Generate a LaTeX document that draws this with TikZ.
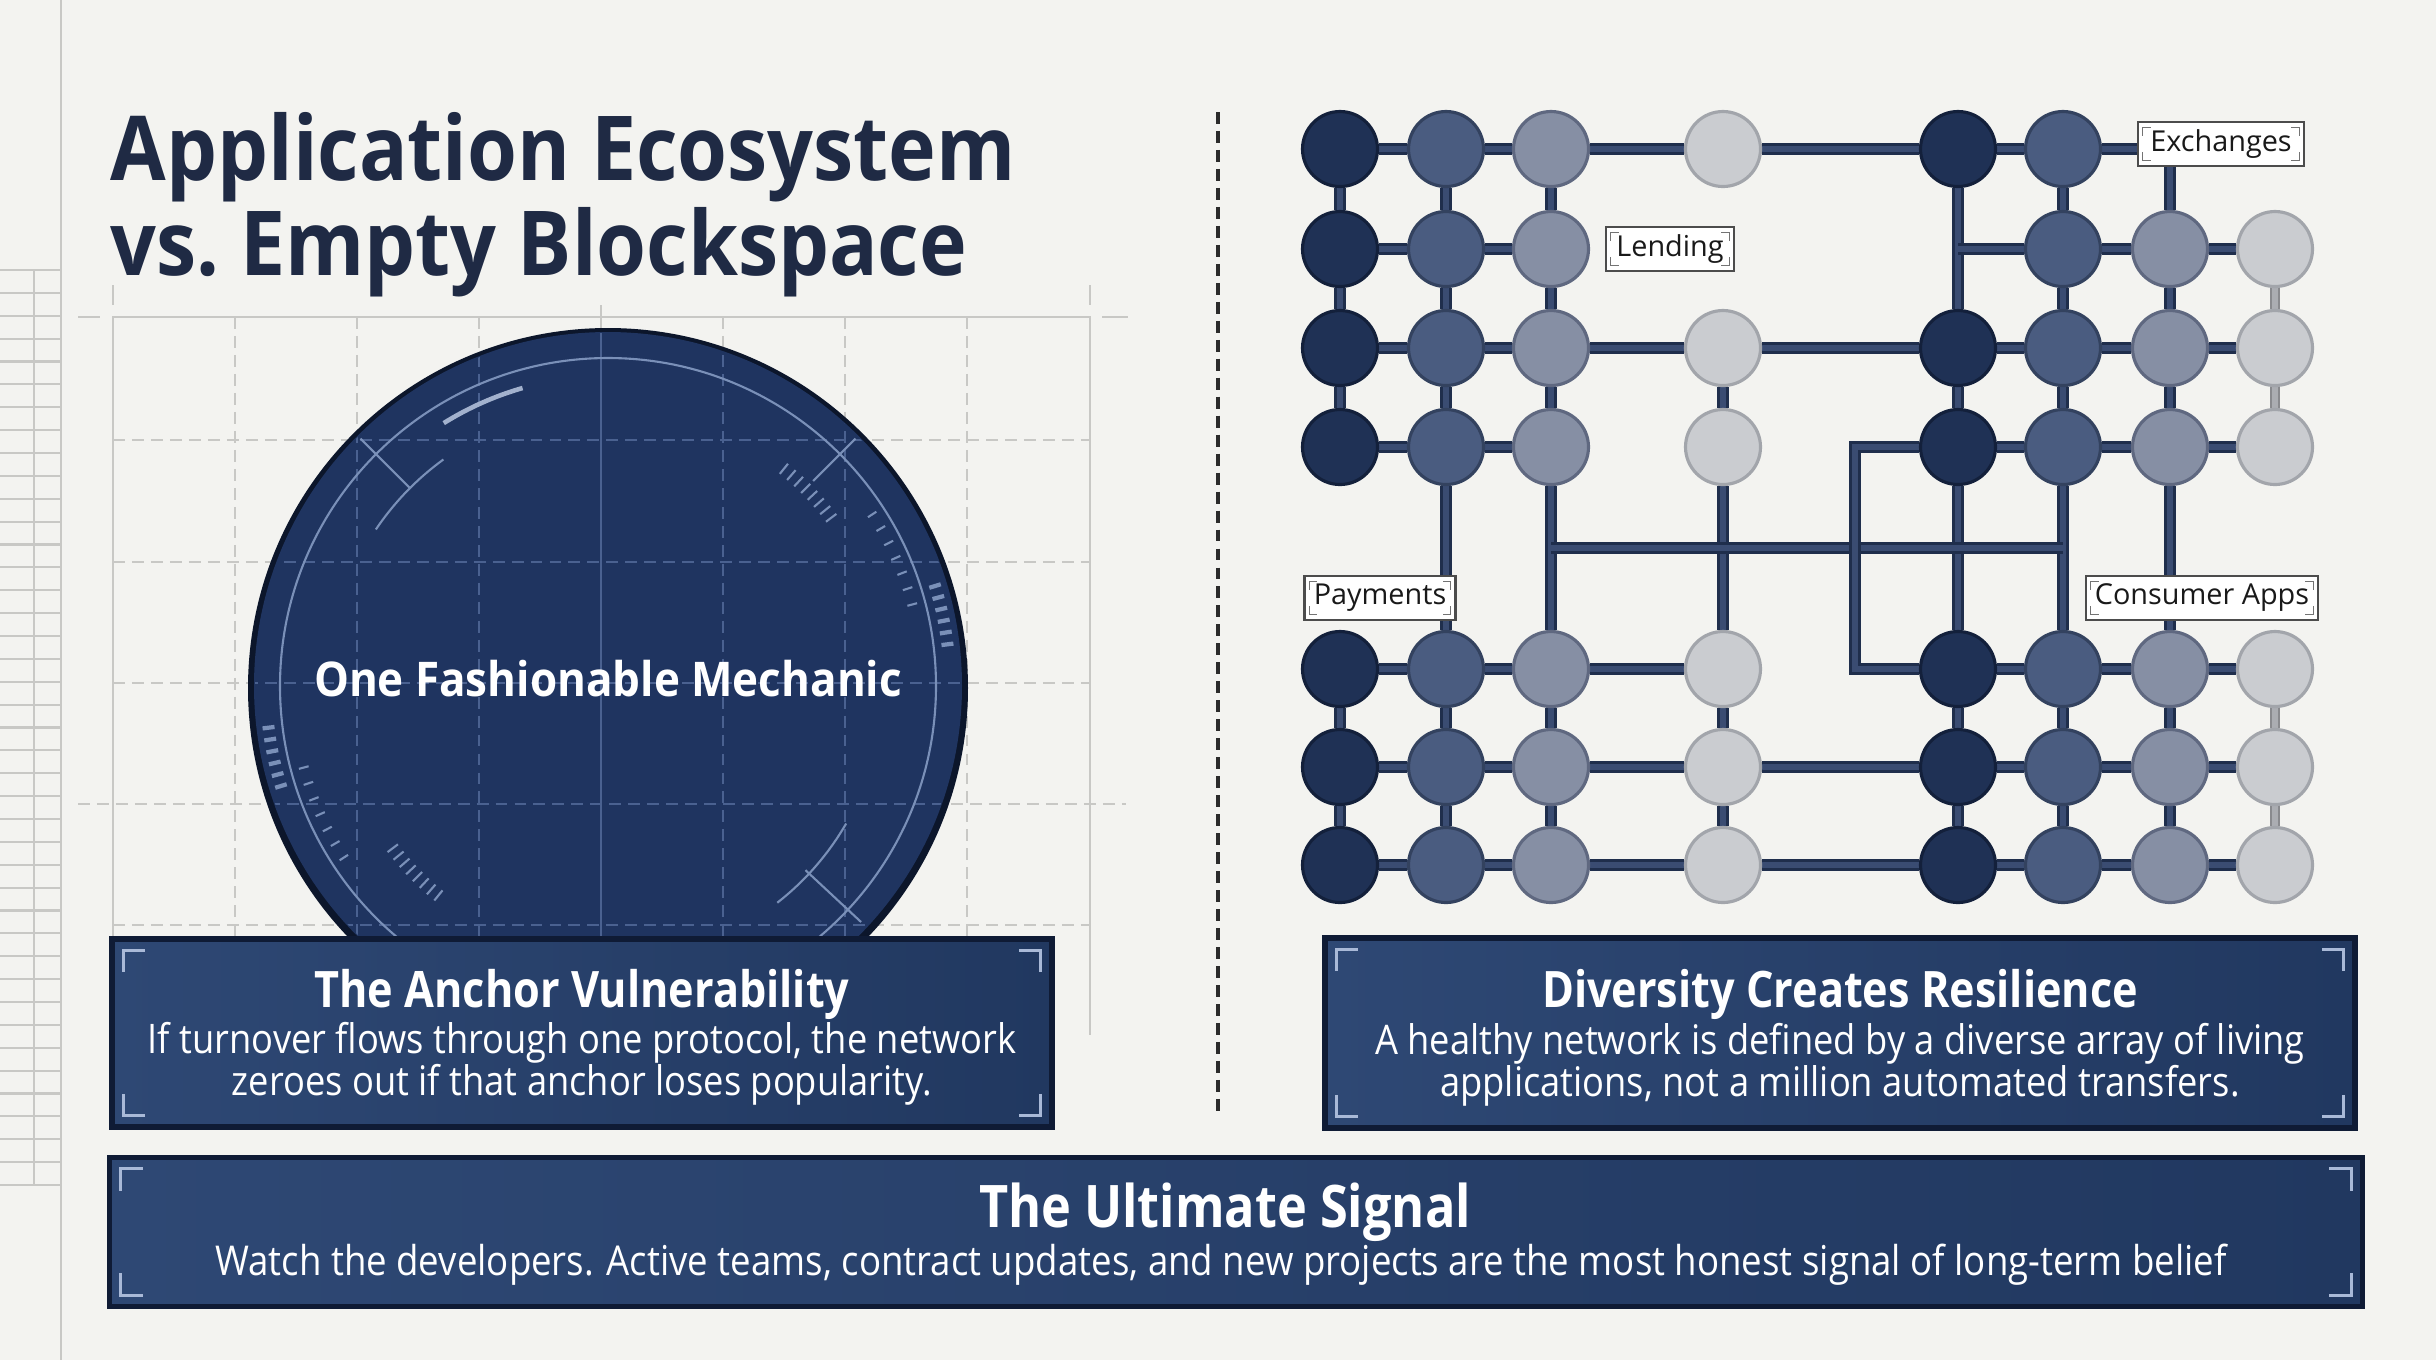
\documentclass[tikz,border=0pt]{standalone}
\usepackage{fontspec}
\setmainfont{Open Sans}
\newfontfamily\slimfont[FakeStretch=0.86]{Open Sans}
\newfontfamily\headfont[FakeStretch=0.90]{Open Sans}
\newfontfamily\bodyfont[FakeStretch=0.89]{Open Sans}
\newfontfamily\discfont[FakeStretch=0.92]{Open Sans}
\usetikzlibrary{positioning}
\definecolor{PaperBg}{HTML}{F3F3F0}
\definecolor{GridGrey}{HTML}{C8C8C5}
\definecolor{InkNavy}{HTML}{1F2A44}
\definecolor{SepInk}{HTML}{2B2B2B}
\definecolor{DiscNavy}{HTML}{1F3460}
\definecolor{DiscEdge}{HTML}{0C162B}
\definecolor{DiscLine}{HTML}{7A90B8}
\definecolor{DiscGrid}{HTML}{4A6190}
\definecolor{PanelLight}{HTML}{2E4874}
\definecolor{PanelDark}{HTML}{213860}
\definecolor{PanelEdge}{HTML}{0F1B35}
\definecolor{PanelMark}{HTML}{A9B9D7}
\definecolor{WireOut}{HTML}{1F2E4C}
\definecolor{WireIn}{HTML}{3A4C72}
\definecolor{WireGrey}{HTML}{ABADB2}
\definecolor{DotA}{HTML}{1F3155}
\definecolor{DotAEdge}{HTML}{13203B}
\definecolor{DotB}{HTML}{4A5C80}
\definecolor{DotBEdge}{HTML}{33425F}
\definecolor{DotC}{HTML}{868FA4}
\definecolor{DotCEdge}{HTML}{5F6880}
\definecolor{DotD}{HTML}{CACCD0}
\definecolor{DotDEdge}{HTML}{A2A5AB}
\pgfdeclarelayer{paper}
\pgfdeclarelayer{wires}
\pgfsetlayers{paper,wires,main}

\begin{document}
\begin{tikzpicture}[x=0.1mm,y=-0.1mm,
    gridline/.style={GridGrey,line width=0.7pt,dash pattern=on 3.4pt off 2pt},
    gridframe/.style={GridGrey,line width=0.8pt},
    discgrid/.style={DiscGrid,line width=0.7pt,dash pattern=on 3.4pt off 2pt},
    netdot/.style={circle,minimum size=7.5mm,inner sep=0pt,line width=0.9pt},
    toneA/.style={netdot,fill=DotA,draw=DotAEdge},
    toneB/.style={netdot,fill=DotB,draw=DotBEdge},
    toneC/.style={netdot,fill=DotC,draw=DotCEdge},
    toneD/.style={netdot,fill=DotD,draw=DotDEdge},
    wire/.style={draw=WireOut,double=WireIn,line width=0.75pt,double distance=1.7pt},
    wirelight/.style={draw=WireGrey!80!black,double=WireGrey,line width=0.6pt,double distance=1.9pt},
    tag/.style={draw=black!70,fill=white,line width=0.7pt,minimum height=4.4mm,inner sep=0pt,
      font=\fontsize{8.2}{9}\selectfont,text=black!90},
    panel/.style={draw=PanelEdge,line width=1.6pt,left color=PanelLight,right color=PanelDark,inner sep=0pt},
    cornermark/.style={PanelMark,line width=0.8pt},
    panelhead/.style={anchor=base,text=white,font=\slimfont\bfseries\fontsize{14.3}{16}\selectfont},
    panelbody/.style={anchor=base,text=white,align=center,font=\bodyfont\fontsize{11.6}{11.7}\selectfont}
  ]
  \useasboundingbox (0,0) rectangle (2436,1360);
  \begin{pgfonlayer}{paper}
    \fill[PaperBg] (0,0) rectangle (2436,1360);
  \end{pgfonlayer}

  % ruled strip on the far left
  \draw[gridframe] (61,0) -- (61,1360);
  \draw[gridframe] (34,270) -- (34,1185);
  \foreach \k [evaluate=\k as \yk using 270+22.875*\k] in {0,...,40}
    \draw[gridframe,line width=0.6pt] (0,\yk) -- (61,\yk);

  \node[anchor=base west,inner sep=0pt,align=left,text=InkNavy,
    font=\headfont\bfseries\fontsize{25.5}{27}\selectfont] (title) at (110,275)
    {Application Ecosystem\\vs.\ Empty Blockspace};

  % blueprint grid
  \def\gridxs{235,357,479,723,845,967}
  \def\gridys{440,562,683,925}
  \foreach \x in \gridxs \draw[gridline] (\x,317) -- (\x,1035);
  \foreach \y in \gridys \draw[gridline] (113,\y) -- (1090,\y);
  \draw[gridline] (78,804) -- (1126,804);
  \draw[gridframe] (601,305) -- (601,1035);
  \draw[gridframe] (113,1035) -- (113,317) -- (1090,317) -- (1090,1035);
  \draw[gridframe] (113,285) -- (113,305) (1090,285) -- (1090,305)
    (78,317) -- (100,317) (1102,317) -- (1128,317);

  \fill[DiscEdge] (608,688) circle (36mm);
  \node[circle,fill=DiscNavy,minimum size=70.8mm,inner sep=0pt] (disc) at (608,686) {};
  \begin{scope}
    \clip (608,686) circle (35.3mm);
    \foreach \x in \gridxs \draw[discgrid] (\x,317) -- (\x,1035);
    \foreach \y in \gridys \draw[discgrid] (113,\y) -- (1090,\y);
    \draw[discgrid] (78,804) -- (1126,804);
    \draw[DiscGrid,line width=0.7pt] (601,305) -- (601,1035);
  \end{scope}
  \begin{scope}[shift={(608,686)},DiscLine,line width=0.6pt]
    \draw (0,0) circle (32.8mm);
    \draw[line width=1.3pt,DiscLine!70!white] (106:31mm) arc (106:122:31mm);
    \draw (126:28mm) arc (126:146:28mm);
    \draw (135:28mm) -- (135:35mm);
    \draw (45:29mm) -- (45:35mm);
    \draw (-43:27mm) -- (-43:34.6mm);
    \draw (-30:27.5mm) arc (-30:-52:27.5mm);
    \foreach \a in {37,39,...,51} \draw (\a:27.3mm) -- (\a:28.6mm);
    \foreach \a in {15,18,...,35} \draw (\a:31mm) -- (\a:32mm);
    \foreach \a in {7,9,...,17} \draw[line width=1.2pt] (\a:33.6mm) -- (\a:34.8mm);
    \foreach \a in {187,189,...,197} \draw[line width=1.2pt] (\a:33.6mm) -- (\a:34.8mm);
    \foreach \a in {195,198,...,213} \draw (\a:31mm) -- (\a:32mm);
    \foreach \a in {217,219,...,231} \draw (\a:26.3mm) -- (\a:27.6mm);
  \end{scope}
  \node[text=white,font=\discfont\bfseries\fontsize{13.6}{15}\selectfont] (mech) at (608,679)
    {One Fashionable Mechanic};

  \draw[SepInk,line width=0.9pt,dash pattern=on 3.4pt off 2pt] (1218,112) -- (1218,1111);

  % network of applications
  \foreach \r/\yr in {1/149,2/249,3/348,4/447,5/669,6/767,7/865}{
    \foreach \c/\x/\tone in {1/1340/A,2/1446/B,3/1551/C,4/1723/D,5/1958/A,6/2063/B,7/2170/C,8/2275/D}{
      \pgfmathtruncatemacro{\gap}{(\r==1 && \c>6) || (\r==2 && (\c==4 || \c==5))}
      \ifnum\gap=0
        \node[tone\tone] (n-\r-\c) at (\x,\yr) {};
      \fi
    }
  }
  \node[tag,minimum width=16.6mm] (exch) at (2221,144) {Exchanges};
  \node[tag,minimum width=12.8mm] (lend) at (1670,249) {Lending};
  \node[tag,minimum width=15.1mm] (pay) at (1380,598) {Payments};
  \node[tag,minimum width=23.2mm] (cons) at (2202,598) {Consumer Apps};
  \foreach \t in {exch,lend,pay,cons}
    \draw[black!55,line width=0.4pt]
      ([shift={(6,15)}]\t.north west) -- ++(0,-8) -- ++(8,0)
      ([shift={(-6,15)}]\t.north east) -- ++(0,-8) -- ++(-8,0)
      ([shift={(6,-15)}]\t.south west) -- ++(0,8) -- ++(8,0)
      ([shift={(-6,-15)}]\t.south east) -- ++(0,8) -- ++(-8,0);

  \coordinate (j-2) at (1958,249);
  \coordinate (b-top) at (1855,447);
  \coordinate (b-bot) at (1855,669);
  \coordinate (h-l) at (1551,548);
  \coordinate (h-r) at (2063,548);

  \begin{pgfonlayer}{wires}
    \foreach \a/\b in {
      1-1/1-2,1-2/1-3,1-3/1-4,1-4/1-5,1-5/1-6,
      2-1/2-2,2-2/2-3,2-6/2-7,2-7/2-8,
      3-1/3-2,3-2/3-3,3-3/3-4,3-4/3-5,3-5/3-6,3-6/3-7,3-7/3-8,
      4-1/4-2,4-2/4-3,4-5/4-6,4-6/4-7,4-7/4-8,
      5-1/5-2,5-2/5-3,5-3/5-4,5-5/5-6,5-6/5-7,5-7/5-8,
      6-1/6-2,6-2/6-3,6-3/6-4,6-4/6-5,6-5/6-6,6-6/6-7,6-7/6-8,
      7-1/7-2,7-2/7-3,7-3/7-4,7-4/7-5,7-5/7-6,7-6/7-7,7-7/7-8,
      1-1/2-1,2-1/3-1,3-1/4-1,5-1/6-1,6-1/7-1,
      1-2/2-2,2-2/3-2,3-2/4-2,4-2/5-2,5-2/6-2,6-2/7-2,
      1-3/2-3,2-3/3-3,3-3/4-3,4-3/5-3,5-3/6-3,6-3/7-3,
      3-4/4-4,4-4/5-4,5-4/6-4,6-4/7-4,
      3-5/4-5,4-5/5-5,5-5/6-5,6-5/7-5,
      1-6/2-6,2-6/3-6,3-6/4-6,4-6/5-6,5-6/6-6,6-6/7-6,
      2-7/3-7,3-7/4-7,4-7/5-7,5-7/6-7,6-7/7-7}
      \draw[wire] (n-\a) -- (n-\b);
    \foreach \a/\b in {2-8/3-8,3-8/4-8,5-8/6-8,6-8/7-8}
      \draw[wirelight] (n-\a) -- (n-\b);
    \draw[wire] (n-1-6) -- (n-1-6 -| exch.west);
    \draw[wire] (exch.south -| n-2-7) -- (n-2-7);
    \draw[wire] (n-1-5) -- (j-2) -- (n-3-5);
    \draw[wire] (j-2) -- (n-2-6);
    \draw[wire] (h-l) -- (h-r);
    \draw[wire] (n-4-5) -- (b-top) -- (b-bot) -- (n-5-5);
  \end{pgfonlayer}

  % text panels
  \node[panel,minimum width=94mm,minimum height=18.8mm] (anchorbox) at (582,1033) {};
  \node[panel,minimum width=103mm,minimum height=19mm] (diversebox) at (1840,1033) {};
  \node[panel,minimum width=225.3mm,minimum height=14.9mm] (signalbox) at (1236,1232) {};
  \foreach \p in {anchorbox,diversebox,signalbox}
    \draw[cornermark]
      ([shift={(14,36)}]\p.north west) -- ++(0,-22) -- ++(22,0)
      ([shift={(-14,36)}]\p.north east) -- ++(0,-22) -- ++(-22,0)
      ([shift={(14,-36)}]\p.south west) -- ++(0,22) -- ++(22,0)
      ([shift={(-14,-36)}]\p.south east) -- ++(0,22) -- ++(-22,0);

  \node[panelhead] (anchorhead) at (582,1007) {The Anchor Vulnerability};
  \node[panelbody] (anchortext) at (582,1095)
    {If turnover flows through one protocol, the network\\zeroes out if that anchor loses popularity.};
  \node[panelhead] (diversehead) at (1840,1007) {Diversity Creates Resilience};
  \node[panelbody] (diversetext) at (1840,1096)
    {A healthy network is defined by a diverse array of living\\applications, not a million automated transfers.};
  \node[panelhead,font=\slimfont\bfseries\fontsize{16.7}{18}\selectfont] (signalhead) at (1225,1227)
    {The Ultimate Signal};
  \node[panelbody,font=\bodyfont\fontsize{11.7}{12}\selectfont] (signaltext) at (1221,1275)
    {Watch the developers. Active teams, contract updates, and new projects are the most honest signal of long-term belief};
\end{tikzpicture}
\end{document}
